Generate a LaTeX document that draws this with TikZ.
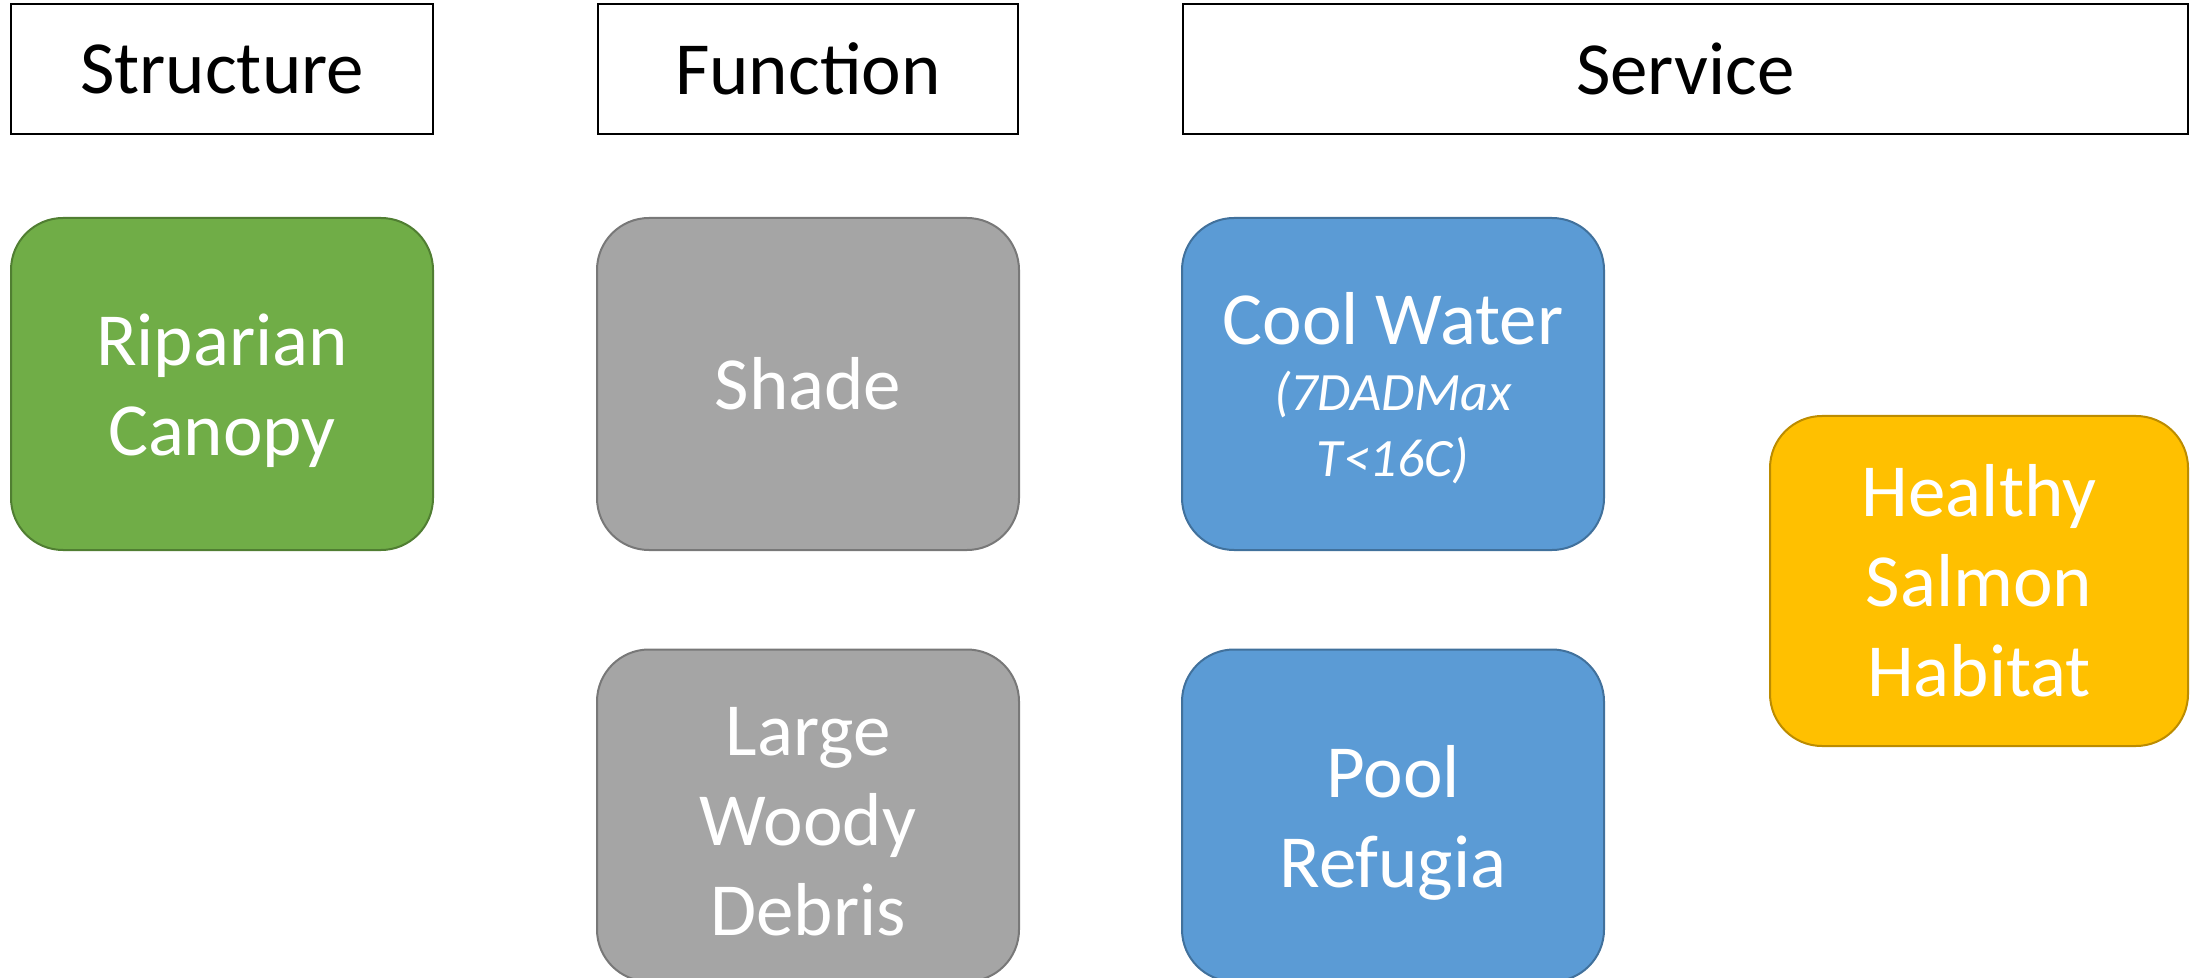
\documentclass[tikz,border=0pt]{standalone}
\usepackage{fontspec}
\setmainfont{Carlito}
\definecolor{cgreen}{HTML}{70AD47}
\definecolor{cgreenb}{HTML}{507E32}
\definecolor{cgrey}{HTML}{A5A5A5}
\definecolor{cgreyb}{HTML}{787878}
\definecolor{cblue}{HTML}{5B9BD5}
\definecolor{cblueb}{HTML}{41719C}
\definecolor{cgold}{HTML}{FFC000}
\definecolor{cgoldb}{HTML}{BC8C00}
\tikzset{
  header/.style={draw=black, line width=1.1pt, fill=white, minimum height=65pt, inner sep=0pt,
    font=\fontsize{37.5}{45}\selectfont, text=black},
  card/.style={rounded corners=26pt, line width=1pt, minimum width=211pt, minimum height=166pt,
    inner sep=0pt, align=center, text=white, font=\fontsize{37.5}{45}\selectfont},
  greencard/.style={card, fill=cgreen, draw=cgreenb},
  greycard/.style={card, fill=cgrey, draw=cgreyb},
  bluecard/.style={card, fill=cblue, draw=cblueb},
  goldcard/.style={card, fill=cgold, draw=cgoldb},
}
\begin{document}
\begin{tikzpicture}[x=0.5pt,y=-0.5pt]
\useasboundingbox (0,0) rectangle (2195,978);
\fill[white] (0,0) rectangle (2195,978);
\node[header, minimum width=211pt] (structure) at (222,69) {Structure};
\node[header, minimum width=210pt] (function) at (808,69) {Function};
\node[header, minimum width=502.5pt] (service) at (1685.5,69) {Service};
\node[greencard] (riparian) at (222,384) {\rule{0pt}{33pt}Riparian\\Canopy};
\node[greycard] (shade) at (808,384) {Shade};
\node[bluecard] (cool) at (1393,384) {\rule{0pt}{30pt}Cool Water\\[-12pt]{\fontsize{27}{33.5}\selectfont\itshape (7DADMax}\\[-12pt]{\fontsize{27}{33.5}\selectfont\itshape T<16C)}};
\node[greycard] (lwd) at (808,815.5) {\rule{0pt}{30pt}Large\\Woody\\Debris};
\node[bluecard] (pool) at (1393,815.5) {\rule{0pt}{33pt}Pool\\Refugia};
\node[goldcard, minimum width=209pt, minimum height=165pt] (healthy) at (1979,581) {Healthy\\Salmon\\Habitat};
\end{tikzpicture}
\end{document}
